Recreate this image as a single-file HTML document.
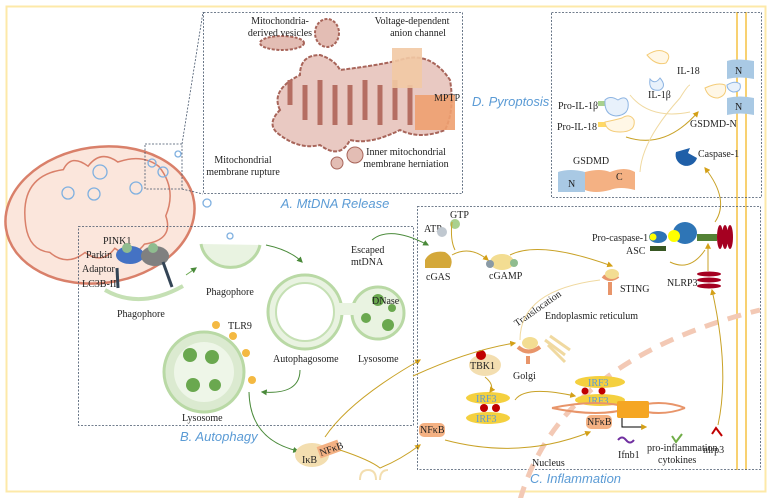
<!DOCTYPE html>
<html><head><meta charset="utf-8"><style>
html,body{margin:0;padding:0;background:#fff}
svg{display:block}
text{font-family:"Liberation Serif",serif;font-size:10px;fill:#222}
.lab{font-family:"Liberation Sans",sans-serif;font-style:italic;font-size:13px;fill:#5b9bd5}
</style></head><body>
<svg width="772" height="498" viewBox="0 0 772 498" xmlns="http://www.w3.org/2000/svg">
<defs>
<marker id="ag" viewBox="0 0 10 10" refX="8" refY="5" markerWidth="6" markerHeight="6" orient="auto"><path d="M0,0L10,5L0,10z" fill="#d4a017"/></marker>
<marker id="agr" viewBox="0 0 10 10" refX="8" refY="5" markerWidth="6" markerHeight="6" orient="auto"><path d="M0,0L10,5L0,10z" fill="#4a8a3a"/></marker>
</defs>
<rect x="6.5" y="6.5" width="759" height="485" fill="none" stroke="#fde9a8" stroke-width="2"/>

<!-- yellow membrane -->
<line x1="737" y1="12" x2="737" y2="470" stroke="#f5c242" stroke-width="1.5"/>
<line x1="746" y1="12" x2="746" y2="470" stroke="#f5c242" stroke-width="1.5"/>

<!-- big mitochondrion -->
<g transform="rotate(-8 100 215)">
<ellipse cx="100" cy="215" rx="95" ry="68" fill="#fbe6dc" stroke="#d9806a" stroke-width="2.5"/>
<path d="M25,215 Q25,165 70,165 Q80,150 95,165 Q110,150 125,165 Q150,160 165,175 Q180,200 165,225 Q170,250 140,250 Q125,265 110,250 Q95,265 80,250 Q60,262 45,245 Q25,240 25,215z" fill="none" stroke="#d9806a" stroke-width="1.5"/>
</g>
<g fill="none" stroke="#7fb0e0" stroke-width="1.3">
<circle cx="100" cy="172" r="7"/><circle cx="68" cy="193" r="6"/><circle cx="94" cy="194" r="6"/><circle cx="136" cy="188" r="6"/><circle cx="163" cy="172" r="5"/><circle cx="152" cy="163" r="4"/><circle cx="178" cy="154" r="3"/><circle cx="207" cy="203" r="4"/><circle cx="230" cy="236" r="3"/>
</g>
<rect x="145" y="144" width="37" height="45" fill="none" stroke="#44546a" stroke-dasharray="2,1.5" stroke-width="0.8"/>
<line x1="182" y1="189" x2="203" y2="194" stroke="#44546a" stroke-dasharray="2,1.5" stroke-width="0.8"/>
<line x1="182" y1="144" x2="203" y2="12" stroke="#44546a" stroke-dasharray="2,1.5" stroke-width="0.8"/>

<!-- Box A -->
<rect x="203.5" y="12.5" width="259" height="181" fill="#fff" stroke="#44546a" stroke-dasharray="2,1.5" stroke-width="0.8"/>
<path d="M280,110 Q270,90 300,75 Q300,55 320,55 Q335,60 340,70 Q380,65 400,60 Q430,50 450,80 Q455,110 445,130 Q420,140 400,130 Q370,145 350,140 Q340,160 320,145 Q300,150 280,135 Q265,125 280,110z" fill="#e9c9c2" stroke="#a8655a" stroke-width="2" stroke-dasharray="4,1.5"/>
<path d="M290,105 V80 M305,120 V85 M320,125 V80 M335,125 V85 M350,125 V85 M365,120 V80 M380,125 V85 M395,120 V80 M410,125 V85" stroke="#b56e62" stroke-width="5"/>
<rect x="392" y="48" width="30" height="40" fill="#f2c9a4" opacity="0.9"/>
<rect x="415" y="95" width="40" height="35" fill="#eea070" opacity="0.9"/>
<ellipse cx="282" cy="43" rx="22" ry="7" fill="#e3bdb4" stroke="#a8655a" stroke-width="2" stroke-dasharray="3,1.5"/>
<ellipse cx="327" cy="33" rx="12" ry="14" fill="#e3bdb4" stroke="#a8655a" stroke-width="2" stroke-dasharray="3,1.5"/>
<circle cx="355" cy="155" r="8" fill="#e3bdb4" stroke="#a8655a"/>
<circle cx="337" cy="163" r="6" fill="#e3bdb4" stroke="#a8655a"/>
<text x="280" y="24" text-anchor="middle">Mitochondria-</text>
<text x="280" y="36" text-anchor="middle">derived vesicles</text>
<text x="412" y="24" text-anchor="middle">Voltage-dependent</text>
<text x="418" y="36" text-anchor="middle">anion channel</text>
<text x="434" y="101">MPTP</text>
<text x="243" y="163" text-anchor="middle">Mitochondrial</text>
<text x="243" y="175" text-anchor="middle">membrane rupture</text>
<text x="406" y="155" text-anchor="middle">Inner mitochondrial</text>
<text x="406" y="167" text-anchor="middle">membrane herniation</text>
<text class="lab" x="335" y="208" text-anchor="middle">A. MtDNA Release</text>

<!-- Box D -->
<rect x="551.5" y="12.5" width="210" height="185" fill="none" stroke="#44546a" stroke-dasharray="2,1.5" stroke-width="0.8"/>
<text class="lab" x="472" y="106">D. Pyroptosis</text>
<text x="558" y="109">Pro-IL-1β</text>
<rect x="598" y="101" width="8" height="5" fill="#a9d18e"/>
<path d="M605,100 Q610,95 618,100 Q626,95 628,102 Q630,115 616,116 Q604,115 605,100z" fill="#e8f1fb" stroke="#8db4e2"/>
<text x="557" y="130">Pro-IL-18</text>
<rect x="598" y="122" width="8" height="5" fill="#ffd966"/>
<path d="M605,122 Q615,120 622,118 Q630,113 634,120 Q636,132 620,132 Q606,132 605,122z" fill="#fff7e6" stroke="#f4cc78"/>
<path d="M647,55 Q658,48 665,52 Q672,55 666,63 Q656,66 647,55z" fill="#fff7e6" stroke="#f4cc78"/>
<text x="677" y="74">IL-18</text>
<path d="M650,79 Q655,85 660,78 Q667,86 660,90 Q648,92 650,79z" fill="#e8f1fb" stroke="#8db4e2"/>
<text x="648" y="98">IL-1β</text>
<path d="M705,88 Q718,82 725,85 Q728,95 718,98 Q708,98 705,88z" fill="#fff7e6" stroke="#f4cc78"/>
<path d="M727,85 Q735,80 740,84 Q742,92 733,92 Q727,90 727,85z" fill="#e8f1fb" stroke="#8db4e2"/>
<path d="M727,61 Q735,58 754,61 V79 Q740,76 727,79z" fill="#a9c9e4"/>
<text x="735" y="74" font-size="11">N</text>
<path d="M727,98 Q740,95 754,98 V115 Q740,112 727,115z" fill="#a9c9e4"/>
<text x="735" y="110" font-size="11">N</text>
<text x="690" y="127">GSDMD-N</text>
<path d="M558,172 Q570,168 585,172 V192 H558z" fill="#a9c9e4"/>
<text x="568" y="187" font-size="11">N</text>
<path d="M585,172 Q600,168 610,172 Q625,166 635,172 V190 Q620,186 610,190 Q595,194 585,190z" fill="#f4b183"/>
<text x="616" y="180" font-size="11">C</text>
<text x="573" y="164">GSDMD</text>
<path d="M676,152 A10,10 0 1,0 697,158 L688,153 L690,148z" fill="#1f5fa8"/>
<text x="698" y="157">Caspase-1</text>
<path d="M626,137 Q665,150 698,112" fill="none" stroke="#c9a227" marker-end="url(#ag)"/>
<path d="M640,172 Q642,140 680,98 Q688,85 690,85" fill="none" stroke="#f0d9a0"/>
<path d="M630,95 Q650,120 690,112" fill="none" stroke="#f0d9a0"/>
<path d="M715,222 Q730,200 705,168" fill="none" stroke="#c9a227" marker-end="url(#ag)"/>

<!-- Box B -->
<rect x="78.5" y="226.5" width="335" height="199" fill="none" stroke="#44546a" stroke-dasharray="2,1.5" stroke-width="0.8"/>
<text class="lab" x="180" y="441">B. Autophagy</text>
<text x="103" y="244">PINK1</text>
<text x="86" y="258">Parkin</text>
<text x="82" y="272">Adaptor</text>
<text x="82" y="287">LC3B-II</text>
<ellipse cx="130" cy="255" rx="14" ry="9" fill="#4472c4"/>
<ellipse cx="155" cy="256" rx="14" ry="10" fill="#808080"/>
<circle cx="127" cy="248" r="5" fill="#8fbc8f"/><circle cx="153" cy="248" r="5" fill="#8fbc8f"/>
<line x1="117" y1="268" x2="118" y2="288" stroke="#345" stroke-width="3"/>
<line x1="163" y1="262" x2="172" y2="287" stroke="#345" stroke-width="3"/>
<path d="M105,290 Q140,310 183,286" fill="none" stroke="#c5e0b4" stroke-width="4"/>
<text x="117" y="317">Phagophore</text>
<path d="M201,244 A30,28 0 0,0 260,245" fill="#e9f3e1" stroke="#b9d9a5" stroke-width="3"/>
<text x="206" y="295">Phagophore</text>
<circle cx="305" cy="312" r="37" fill="#e9f3e1" stroke="#b9d9a5" stroke-width="3"/>
<circle cx="305" cy="312" r="29" fill="#fff" stroke="#c5e0b4" stroke-width="2"/>
<circle cx="378" cy="313" r="26" fill="#e9f3e1" stroke="#b9d9a5" stroke-width="3"/>
<rect x="338" y="303" width="18" height="12" fill="#e9f3e1"/>
<g fill="#6aa84f"><circle cx="378" cy="300" r="6"/><circle cx="366" cy="318" r="5"/><circle cx="388" cy="325" r="6"/><circle cx="392" cy="308" r="4"/></g>
<text x="372" y="304">DNase</text>
<text x="273" y="362">Autophagosome</text>
<text x="358" y="362">Lysosome</text>
<circle cx="204" cy="372" r="40" fill="#dbead0" stroke="#b9d9a5" stroke-width="3"/>
<circle cx="204" cy="372" r="30" fill="#eef6e8"/>
<g fill="#6aa84f"><circle cx="190" cy="355" r="7"/><circle cx="212" cy="357" r="7"/><circle cx="193" cy="385" r="7"/><circle cx="215" cy="385" r="6"/></g>
<text x="182" y="421">Lysosome</text>
<text x="228" y="329">TLR9</text>
<g fill="#f4b942"><circle cx="216" cy="325" r="4"/><circle cx="233" cy="336" r="4"/><circle cx="246" cy="353" r="4"/><circle cx="252" cy="380" r="4"/></g>
<text x="351" y="253">Escaped</text>
<text x="351" y="265">mtDNA</text>
<path d="M186,275 L196,268" stroke="#6aa84f" marker-end="url(#agr)"/>
<path d="M266,245 Q290,250 302,262" fill="none" stroke="#4a8a3a" marker-end="url(#agr)"/>
<path d="M300,370 Q300,395 262,392" fill="none" stroke="#4a8a3a" marker-end="url(#agr)"/>
<path d="M249,392 Q250,440 298,451" fill="none" stroke="#4a8a3a" marker-end="url(#agr)"/>
<path d="M372,240 Q390,225 428,245" fill="none" stroke="#4a8a3a" marker-end="url(#agr)"/>

<!-- IkB NFkB -->
<ellipse cx="312" cy="455" rx="17" ry="12" fill="#f3deb0"/>
<text x="302" y="463">IκB</text>
<rect x="318" y="443" width="22" height="12" fill="#f4b183" transform="rotate(-20 329 449)"/>
<text x="319" y="453" font-size="9" transform="rotate(-20 329 449)">NFκB</text>
<path d="M325,437 Q350,400 420,360" fill="none" stroke="#c9a227" marker-end="url(#ag)"/>
<path d="M340,450 Q370,460 380,468 Q400,460 420,445" fill="none" stroke="#c9a227" marker-end="url(#ag)"/>
<path d="M360,480 q0,-10 8,-10 q8,0 8,10 M380,480 q0,-10 8,-10" fill="none" stroke="#f3deb0" stroke-width="2"/>

<!-- Box C -->
<rect x="417.5" y="206.5" width="343" height="263" fill="none" stroke="#44546a" stroke-dasharray="2,1.5" stroke-width="0.8"/>
<text class="lab" x="530" y="483">C. Inflammation</text>
<path d="M520,500 Q560,360 760,310" fill="none" stroke="#f3c9b5" stroke-width="5" stroke-dasharray="14,10"/>
<text x="424" y="232">ATP</text>
<text x="450" y="218">GTP</text>
<circle cx="442" cy="232" r="5" fill="#c0c8d0"/><circle cx="455" cy="224" r="5" fill="#a9d18e"/>
<path d="M425,260 Q430,250 445,252 Q455,258 450,268 L425,268z" fill="#d4a83a"/>
<text x="426" y="280">cGAS</text>
<ellipse cx="502" cy="262" rx="12" ry="8" fill="#f3dd92"/>
<circle cx="490" cy="264" r="4" fill="#8a9aa5"/><circle cx="514" cy="263" r="4" fill="#8fbc8f"/>
<text x="489" y="279">cGAMP</text>
<path d="M452,255 Q470,245 488,260" fill="none" stroke="#c9a227" marker-end="url(#ag)"/>
<path d="M452,222 Q450,240 455,250" fill="none" stroke="#c9a227"/>
<path d="M510,255 Q540,240 612,266" fill="none" stroke="#c9a227" marker-end="url(#ag)"/>
<path d="M603,276 Q610,282 618,276 M610,282 V295" stroke="#e8956a" stroke-width="4" fill="none"/>
<ellipse cx="612" cy="274" rx="7" ry="5" fill="#f3dd92"/>
<text x="620" y="292">STING</text>
<text x="508" y="322" font-size="9" transform="rotate(-35 520 310)">Translocation</text>
<text x="545" y="319">Endoplasmic reticulum</text>
<path d="M520,340 Q520,290 600,280" fill="none" stroke="#f0d9a0"/>
<path d="M518,347 Q528,356 540,347 M528,356 V364" stroke="#e8956a" stroke-width="4" fill="none"/>
<ellipse cx="530" cy="343" rx="8" ry="6" fill="#f3dd92"/>
<g stroke="#f0d9a0" stroke-width="3"><line x1="545" y1="340" x2="565" y2="355"/><line x1="550" y1="336" x2="570" y2="350"/><line x1="548" y1="345" x2="565" y2="362"/></g>
<text x="513" y="379">Golgi</text>
<ellipse cx="485" cy="365" rx="16" ry="11" fill="#f3deb0"/>
<circle cx="481" cy="355" r="5" fill="#c00000"/>
<text x="470" y="369">TBK1</text>
<ellipse cx="488" cy="398" rx="22" ry="6" fill="#f4d03f"/>
<ellipse cx="488" cy="418" rx="22" ry="6" fill="#f4d03f"/>
<text x="476" y="402" style="fill:#5b9bd5">IRF3</text>
<text x="476" y="422" style="fill:#5b9bd5">IRF3</text>
<circle cx="484" cy="408" r="4" fill="#c00000"/><circle cx="496" cy="408" r="4" fill="#c00000"/>
<ellipse cx="600" cy="382" rx="25" ry="6" fill="#f4d03f"/>
<ellipse cx="600" cy="400" rx="25" ry="6" fill="#f4d03f"/>
<text x="588" y="386" style="fill:#5b9bd5">IRF3</text>
<text x="588" y="404" style="fill:#5b9bd5">IRF3</text>
<circle cx="585" cy="391" r="3.5" fill="#c00000"/><circle cx="602" cy="391" r="3.5" fill="#c00000"/>
<path d="M552,408 Q600,398 630,408 Q660,418 685,408" fill="none" stroke="#e8956a" stroke-width="2"/>
<path d="M552,408 Q600,418 630,408 Q660,398 685,408" fill="none" stroke="#e8956a" stroke-width="2"/>
<rect x="617" y="401" width="32" height="17" rx="2" fill="#f5a623"/>
<path d="M622,418 V427 H646" fill="none" stroke="#000" marker-end="url(#ag)"/>
<rect x="586" y="415" width="26" height="14" rx="5" fill="#f4b183"/>
<text x="587" y="425">NFκB</text>
<rect x="419" y="423" width="26" height="14" rx="5" fill="#f4b183"/>
<text x="420" y="433">NFκB</text>
<path d="M445,440 Q520,460 590,432" fill="none" stroke="#c9a227" marker-end="url(#ag)"/>
<path d="M515,400 Q525,385 575,396" fill="none" stroke="#c9a227" marker-end="url(#ag)"/>
<path d="M485,377 Q495,385 490,392" fill="none" stroke="#c9a227" marker-end="url(#ag)"/>
<path d="M413,376 Q470,350 515,343" fill="none" stroke="#c9a227" marker-end="url(#ag)"/>
<path d="M618,440 q4,-5 8,0 q4,5 8,0" stroke="#7030a0" stroke-width="2" fill="none"/>
<text x="618" y="458">Ifnb1</text>
<path d="M672,436 l4,6 l6,-8" stroke="#70ad47" stroke-width="2" fill="none"/>
<text x="647" y="451">pro-inflammation</text>
<text x="658" y="463">cytokines</text>
<path d="M712,434 l4,-6 l6,8" stroke="#c00000" stroke-width="2" fill="none"/>
<text x="703" y="453">nlrp3</text>
<text x="532" y="466">Nucleus</text>
<path d="M718,425 Q730,370 712,290" fill="none" stroke="#c9a227" marker-end="url(#ag)"/>
<text x="592" y="241">Pro-caspase-1</text>
<ellipse cx="658" cy="237" rx="9" ry="6" fill="#2e75b6"/><circle cx="653" cy="237" r="3.5" fill="#ffff00"/>
<text x="626" y="254">ASC</text>
<rect x="650" y="246" width="16" height="5" fill="#385723"/>
<ellipse cx="685" cy="233" rx="12" ry="11" fill="#2e75b6"/><circle cx="674" cy="236" r="6" fill="#ffff00"/>
<rect x="697" y="234" width="20" height="7" fill="#548235"/>
<g fill="#a50021"><ellipse cx="720" cy="237" rx="3" ry="12"/><ellipse cx="725" cy="237" rx="3" ry="12"/><ellipse cx="730" cy="237" rx="3" ry="12"/></g>
<text x="667" y="286">NLRP3</text>
<g fill="#a50021"><ellipse cx="709" cy="274" rx="12" ry="2.5"/><ellipse cx="709" cy="280" rx="12" ry="2.5"/><ellipse cx="709" cy="286" rx="12" ry="2.5"/></g>
<path d="M708,271 V244" stroke="#c9a227" marker-end="url(#ag)"/>
<path d="M670,262 Q690,272 705,250" fill="none" stroke="#c9a227"/>
</svg>
</body></html>
